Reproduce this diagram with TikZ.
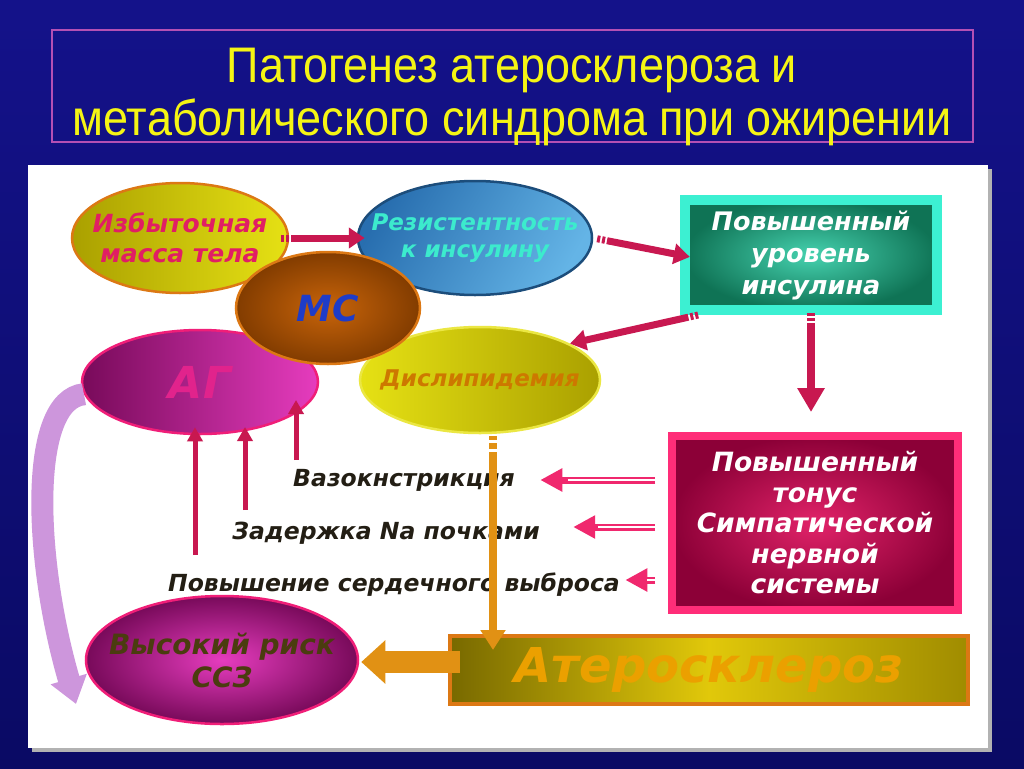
\documentclass[tikz,border=0pt]{standalone}
\usepackage{fontspec}
\setmainfont{Liberation Sans}
\newfontfamily\titlefont{Liberation Sans}[FakeStretch=0.9]
\newfontfamily\wa{DejaVu Sans}
\usetikzlibrary{shapes.geometric,arrows.meta,calc}
\definecolor{bgblue}{RGB}{20,18,138}
\definecolor{bgdark}{RGB}{10,10,100}
\definecolor{ttlyellow}{RGB}{245,245,20}
\definecolor{ttlframe}{RGB}{180,80,180}
\definecolor{crim}{RGB}{200,24,80}
\definecolor{pinkarrow}{RGB}{240,40,110}
\definecolor{orangearr}{RGB}{225,145,20}
\definecolor{lav}{RGB}{205,150,220}
\definecolor{olive1}{RGB}{170,160,0}
\definecolor{olive2}{RGB}{230,225,20}
\definecolor{orangeborder}{RGB}{220,120,20}
\definecolor{blue1}{RGB}{40,110,175}
\definecolor{blue2}{RGB}{100,180,230}
\definecolor{brown1}{RGB}{130,60,0}
\definecolor{brown2}{RGB}{200,100,10}
\definecolor{mag1}{RGB}{120,10,90}
\definecolor{mag2}{RGB}{230,60,190}
\definecolor{magborder}{RGB}{240,30,120}
\definecolor{aqua}{RGB}{60,240,210}
\definecolor{teal1}{RGB}{70,210,175}
\definecolor{teal2}{RGB}{15,115,85}
\definecolor{sns1}{RGB}{225,35,105}
\definecolor{sns2}{RGB}{140,0,55}
\definecolor{snsborder}{RGB}{255,45,120}
\definecolor{ath1}{RGB}{120,105,0}
\definecolor{ath2}{RGB}{225,200,10}
\definecolor{ath3}{RGB}{160,140,0}
\definecolor{txtpink}{RGB}{225,30,100}
\definecolor{txtcyan}{RGB}{60,235,205}
\definecolor{txtblue}{RGB}{30,60,200}
\definecolor{txtmag}{RGB}{225,35,140}
\definecolor{txtorange}{RGB}{235,160,0}
\definecolor{txtorange2}{RGB}{205,120,0}
\definecolor{txtdark}{RGB}{35,30,20}
\definecolor{txtbrown}{RGB}{75,60,15}
\tikzset{
  ell/.style={ellipse, inner xsep=-45pt, inner ysep=-25pt, line width=2.5pt, align=center},
  lbl/.style={text=txtdark, align=center, font=\wa\bfseries\itshape\fontsize{23.5}{26}\selectfont},
  crimarrow/.style={crim, line width=7pt, -{Triangle[width=20pt,length=16pt]}},
  uparrow/.style={crim, line width=5pt, -{Triangle[width=15pt,length=14pt]}},
  dblarrow/.style={pinkarrow, line width=7pt, -{Triangle[width=22pt,length=22pt]}},
  dblinner/.style={white, line width=1.5pt},
  orarrow/.style={orangearr, line width=8pt, -{Triangle[width=24pt,length=20pt]}},
}
\begin{document}
\begin{tikzpicture}[x=1pt,y=-1pt]
\useasboundingbox (0,0) rectangle (1024,768);
% background
\shade[top color=bgblue, bottom color=bgdark] (0,0) rectangle (1024,768);
% title frame
\node[draw=ttlframe, line width=1.2pt, minimum width=921pt, minimum height=112pt, inner sep=0pt] (title) at (512.5,86) {};
\node[text=ttlyellow, font=\titlefont\fontsize{50}{53}\selectfont, align=center] (ttltxt) at (512,97)
  {Патогенез атеросклероза и\\ метаболического синдрома при ожирении};
% white panel
\fill[gray!60] (32,169) rectangle (992,752);
\fill[white] (28,165) rectangle (988,748);

% bottom-left ellipses
\node[ell, minimum width=236pt, minimum height=104pt, draw=magborder, left color=mag1, right color=mag2,
  font=\wa\bfseries\itshape\fontsize{44}{48}\selectfont, text=txtmag] (ag) at (200,382) {АГ};
\node[ell, minimum width=272pt, minimum height=128pt, draw=magborder, inner color=mag2, outer color=mag1,
  font=\wa\bfseries\itshape\fontsize{28}{33}\selectfont, text=txtbrown] (ssz) at (222,660) {Высокий риск\\ССЗ};
% lavender curved arrow
\coordinate (lavEnd) at (76,704);
\draw[lav, line width=22pt, -{Triangle[width=36pt,length=26pt]}]
  (ag.186) .. controls (28,400) and (34,560) .. (lavEnd);

% ellipses top
\node[ell, minimum width=216pt, minimum height=110pt, draw=orangeborder, left color=olive1, right color=olive2,
  font=\wa\bfseries\itshape\fontsize{25}{30}\selectfont, text=txtpink] (izb) at (180,238) {Избыточная\\масса тела};
\node[ell, minimum width=234pt, minimum height=114pt, draw=blue1!70!black, left color=blue1, right color=blue2, shading angle=60,
  font=\wa\bfseries\itshape\fontsize{23}{27}\selectfont, text=txtcyan] (rez) at (475,238) {Резистентность\\к инсулину};
\node[ell, minimum width=240pt, minimum height=106pt, draw=olive2!80!white, left color=olive2, right color=olive1,
  font=\wa\bfseries\itshape\fontsize{23}{26}\selectfont, text=txtorange2] (dis) at (480,380) {Дислипидемия};
\node[ell, minimum width=184pt, minimum height=112pt, draw=orangeborder, inner color=brown2, outer color=brown1,
  font=\wa\bfseries\itshape\fontsize{36}{40}\selectfont, text=txtblue] (ms) at (328,308) {МС};

% rectangles
\node[draw=aqua, line width=10pt, minimum width=252pt, minimum height=110pt, inner color=teal1, outer color=teal2,
  font=\wa\bfseries\itshape\fontsize{25.5}{32}\selectfont, text=white, align=center] (ins) at (811,255)
  {Повышенный\\уровень\\инсулина};
\node[draw=snsborder, line width=8pt, minimum width=286pt, minimum height=174pt, inner color=sns1, outer color=sns2,
  font=\wa\bfseries\itshape\fontsize{26.5}{30.5}\selectfont, text=white, align=center] (sns) at (815,523)
  {Повышенный\\тонус\\Симпатической\\нервной\\системы};
\node[draw=orangeborder, line width=4pt, minimum width=518pt, minimum height=68pt, left color=ath1, right color=ath3, middle color=ath2,
  font=\wa\bfseries\itshape\fontsize{48}{50}\selectfont, text=txtorange] (ath) at (709,670) {Атеросклероз};

% labels
\node[lbl] (vaso) at (404,480) {Вазокнстрикция};
\node[lbl] (na) at (386,533) {Задержка Na почками};
\node[lbl] (cardiac) at (394,585) {Повышение сердечного выброса};

% arrows top row
\draw[crimarrow, dash pattern=on 3pt off 2pt on 3pt off 2pt on 200pt, shorten <=-8pt, shorten >=-8pt] (izb.east) -- (rez.west);
\draw[crimarrow, dash pattern=on 3pt off 2pt on 3pt off 2pt on 200pt, shorten <=4pt, shorten >=-10pt] (rez.east) -- (ins.west);
\draw[crimarrow, dash pattern=on 3pt off 2pt on 3pt off 2pt on 200pt] (ins.208) -- (dis.22);
\draw[crimarrow, line width=8pt, -{Triangle[width=26pt,length=24pt]}, dash pattern=on 3pt off 2pt on 3pt off 2pt on 200pt, shorten <=-2pt, shorten >=20pt] (ins.south) -- (ins.south |- sns.north);

% arrows into labels
\draw[dblarrow, shorten <=13pt, shorten >=22pt] (sns.west |- vaso) -- (vaso.east);
\draw[dblinner, shorten <=13pt] (sns.west |- vaso) -- ($(vaso.east)+(50,0)$);
\coordinate (naR) at ($(na.east)+(30,-6)$);
\draw[dblarrow, shorten <=13pt] (sns.west |- naR) -- (naR);
\draw[dblinner, shorten <=13pt] (sns.west |- naR) -- ($(naR)+(25,0)$);
\coordinate (cR) at ($(cardiac.east)+(2,-5)$);
\draw[dblarrow, shorten <=13pt] (sns.west |- cR) -- (cR);
\draw[dblinner, shorten <=13pt] (sns.west |- cR) -- ($(cR)+(22,0)$);

% up arrows into AG
\coordinate (u1) at (195,555);
\coordinate (u2) at (245,510);
\coordinate (u3) at (296,460);
\draw[uparrow, shorten >=-8pt] (u1) -- (u1 |- ag.south);
\draw[uparrow] (u2) -- (245,427);
\draw[uparrow] (u3) -- (296,400);

% orange arrows
\coordinate (dtop) at ($(dis.south)+(13,2)$);
\draw[orarrow, dash pattern=on 4pt off 3pt on 6pt off 3pt on 300pt, shorten >=-16pt] (dtop) -- (dtop |- ath.north);
\draw[orangearr, line width=22pt, -{Triangle[width=42pt,length=24pt]}, shorten <=-12pt, shorten >=2pt] (ath.west |- 0,662) -- (ssz.east |- 0,662);
\end{tikzpicture}
\end{document}
